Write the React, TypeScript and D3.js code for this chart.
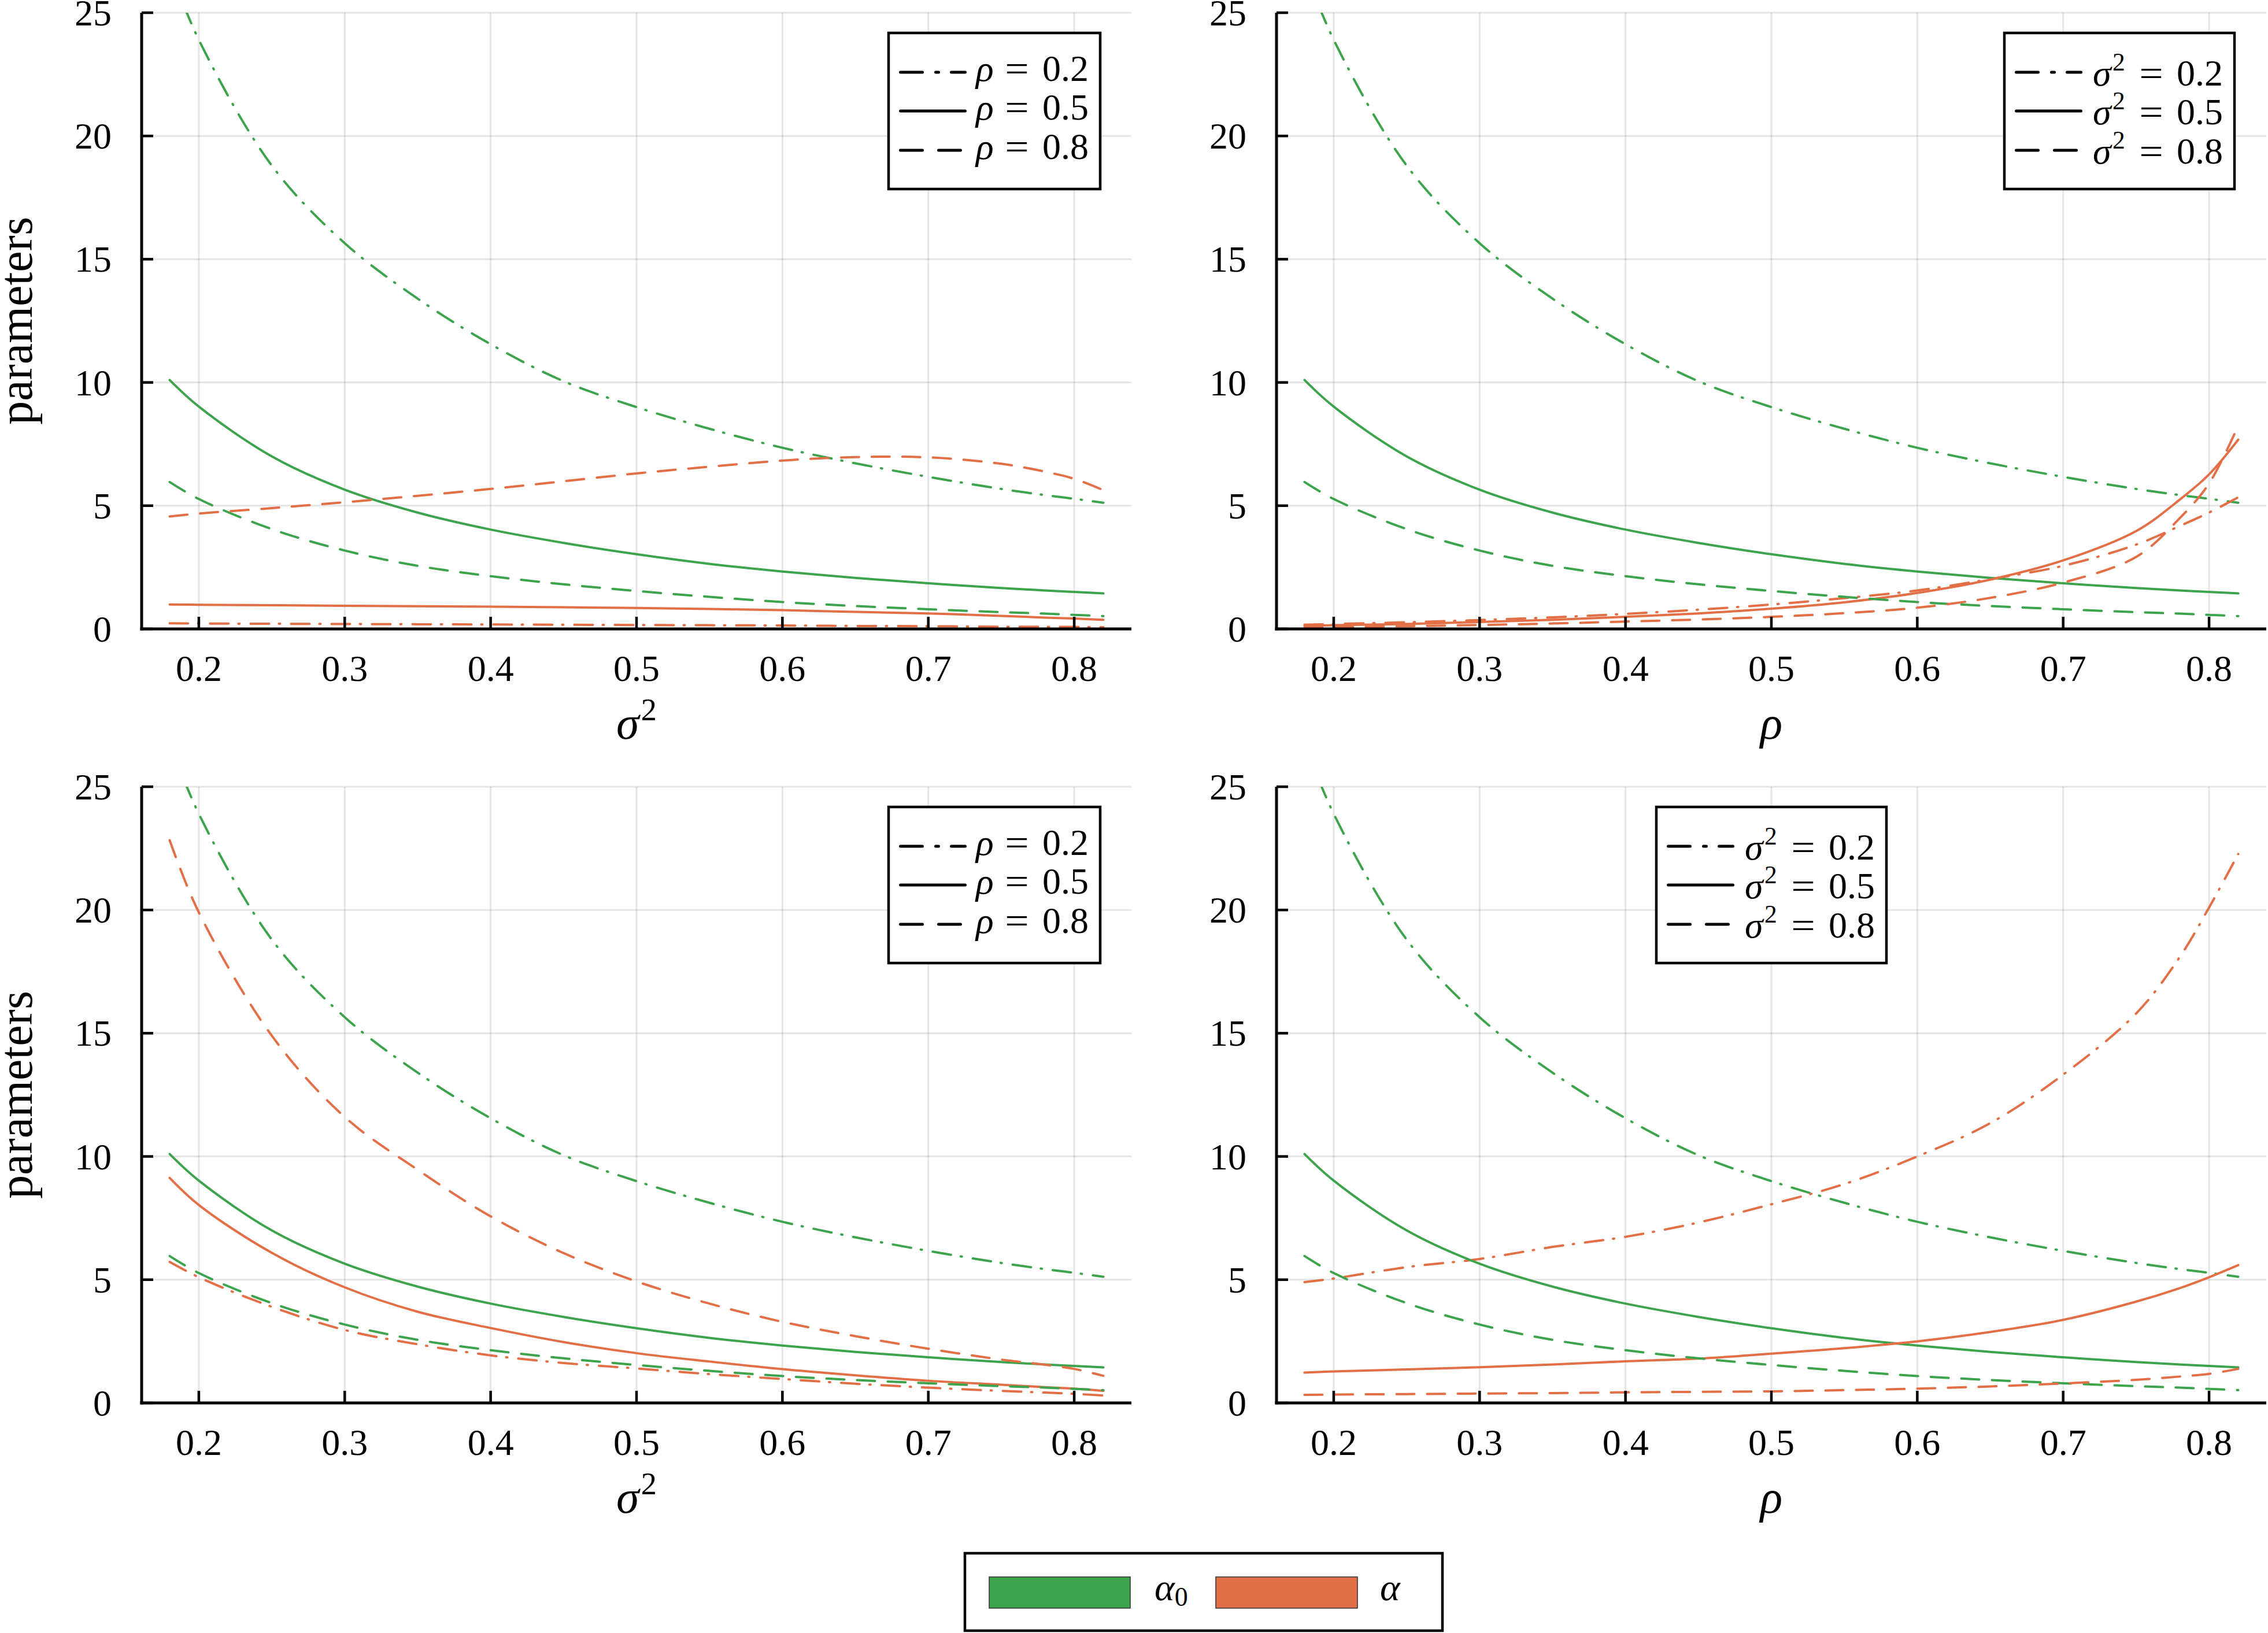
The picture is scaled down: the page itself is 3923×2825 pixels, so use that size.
import React from 'react';
import * as d3 from 'd3';

// ---------- data ----------
const xGrid = [0.18, 0.2, 0.25, 0.3, 0.35, 0.4, 0.45, 0.5, 0.55, 0.6, 0.65, 0.7, 0.75, 0.78, 0.8, 0.82];

// alpha_0 (identical in all panels)
const alpha0DashDot = [26.8, 23.9, 18.8, 15.65, 13.4, 11.55, 10.05, 9.0, 8.12, 7.35, 6.72, 6.17, 5.68, 5.43, 5.28, 5.12];
const alpha0Solid = [10.1, 9.02, 7.0, 5.65, 4.72, 4.03, 3.49, 3.03, 2.64, 2.33, 2.07, 1.85, 1.66, 1.56, 1.5, 1.44];
const alpha0Dashed = [5.96, 5.27, 4.05, 3.18, 2.56, 2.14, 1.81, 1.54, 1.3, 1.09, 0.93, 0.8, 0.68, 0.62, 0.57, 0.52];

// top-left: alpha vs sigma^2
const tlAlphaRho02 = [0.23, 0.22, 0.21, 0.2, 0.19, 0.18, 0.17, 0.16, 0.15, 0.14, 0.12, 0.11, 0.09, 0.085, 0.08, 0.07];
const tlAlphaRho05 = [0.99, 0.98, 0.96, 0.94, 0.92, 0.9, 0.88, 0.85, 0.81, 0.76, 0.69, 0.63, 0.53, 0.46, 0.42, 0.37];
const tlAlphaRho08 = [4.56, 4.68, 4.9, 5.14, 5.4, 5.68, 5.99, 6.31, 6.58, 6.83, 6.97, 6.96, 6.7, 6.38, 6.09, 5.63];

// top-right: alpha vs rho
const trAlphaSig02 = [0.17, 0.2, 0.27, 0.36, 0.47, 0.61, 0.78, 0.99, 1.25, 1.56, 2.02, 2.56, 3.42, 4.18, 4.72, 5.34];
const trAlphaSig05 = [0.12, 0.15, 0.2, 0.28, 0.37, 0.49, 0.63, 0.82, 1.08, 1.46, 2.0, 2.78, 3.97, 5.25, 6.27, 7.68];
const trAlphaSig08 = [0.05, 0.07, 0.11, 0.16, 0.22, 0.3, 0.38, 0.49, 0.64, 0.86, 1.26, 1.88, 2.92, 4.5, 5.9, 8.25];

// bottom-left: alpha vs sigma^2
const blAlphaRho02 = [5.72, 5.1, 3.9, 2.96, 2.38, 1.93, 1.62, 1.4, 1.17, 0.97, 0.78, 0.62, 0.49, 0.42, 0.37, 0.3];
const blAlphaRho05 = [9.13, 8.03, 6.09, 4.69, 3.7, 3.04, 2.47, 2.02, 1.68, 1.37, 1.12, 0.9, 0.74, 0.64, 0.58, 0.49];
const blAlphaRho08 = [22.83, 19.9, 14.9, 11.6, 9.46, 7.57, 6.08, 4.93, 4.03, 3.29, 2.71, 2.2, 1.76, 1.55, 1.38, 1.1];

// bottom-right: alpha vs rho
const brAlphaSig02 = [4.9, 5.05, 5.51, 5.84, 6.33, 6.74, 7.32, 8.06, 8.88, 10.0, 11.35, 13.32, 15.8, 18.1, 20.1, 22.27];
const brAlphaSig05 = [1.23, 1.28, 1.36, 1.45, 1.56, 1.69, 1.8, 2.0, 2.22, 2.5, 2.88, 3.37, 4.11, 4.66, 5.1, 5.59];
const brAlphaSig08 = [0.33, 0.34, 0.36, 0.38, 0.4, 0.43, 0.45, 0.47, 0.52, 0.58, 0.67, 0.79, 0.94, 1.07, 1.18, 1.38];

const xTicks = [0.2, 0.3, 0.4, 0.5, 0.6, 0.7, 0.8];
const yTicks = [0, 5, 10, 15, 20, 25];
const legendValues = ['0.2', '0.5', '0.8'];
const styleOrder = ['dashdot', 'solid', 'dashed'];

// ---------- style ----------
const GREEN = '#3da44d';
const ORANGE = '#e26f46';
const FONT = "'Liberation Serif', 'DejaVu Serif', serif";
const W = 3923;
const H = 2825;
const PW = 1712;
const PH = 1066;
const X_DOMAIN = [0.1608, 0.8392];

const DASH: Record<string, string | undefined> = {
  dashdot: '32 17 2 19',
  solid: undefined,
  dashed: '31 22',
};
const LEG_DASH: Record<string, string | undefined> = {
  dashdot: '38 23 5 22',
  solid: undefined,
  dashed: '38 28',
};

type PanelCfg = {
  id: string;
  left: number;
  top: number;
  xvar: 'sigma' | 'rho';
  yLabel: boolean;
  orange: number[][];
  legendX: number;
};

const panels: PanelCfg[] = [
  { id: 'tl', left: 245, top: 22, xvar: 'sigma', yLabel: true, orange: [tlAlphaRho02, tlAlphaRho05, tlAlphaRho08], legendX: 1292 },
  { id: 'tr', left: 2208, top: 22, xvar: 'rho', yLabel: false, orange: [trAlphaSig02, trAlphaSig05, trAlphaSig08], legendX: 1259 },
  { id: 'bl', left: 245, top: 1361, xvar: 'sigma', yLabel: true, orange: [blAlphaRho02, blAlphaRho05, blAlphaRho08], legendX: 1292 },
  { id: 'br', left: 2208, top: 1361, xvar: 'rho', yLabel: false, orange: [brAlphaSig02, brAlphaSig05, brAlphaSig08], legendX: 657 },
];

function VarLabel({ v, size }: { v: 'sigma' | 'rho'; size: number }) {
  if (v === 'rho') return <tspan fontStyle="italic">ρ</tspan>;
  return (
    <>
      <tspan fontStyle="italic">σ</tspan>
      <tspan fontSize={size * 0.68} dy={-size * 0.4} dx={size * 0.04}>2</tspan>
    </>
  );
}

function Panel({ p }: { p: PanelCfg }) {
  const x = d3.scaleLinear().domain(X_DOMAIN).range([0, PW]);
  const y = d3.scaleLinear().domain([0, 25]).range([PH, 0]);
  const lineGen = d3
    .line<number>()
    .x((_d, i) => x(xGrid[i]))
    .y((d) => y(d))
    .curve(d3.curveCatmullRom.alpha(0.5));
  const green = [alpha0DashDot, alpha0Solid, alpha0Dashed];
  const legVar: 'sigma' | 'rho' = p.xvar === 'sigma' ? 'rho' : 'sigma';
  const legW = legVar === 'rho' ? 366 : 398;
  const legY = 35;
  const legH = 270;
  const rowOff = [68, 135, 203];
  const symX = legVar === 'rho' ? 151 : 153;
  const eqX = legVar === 'rho' ? 222 : 254;
  const valX = legVar === 'rho' ? 266 : 298;
  const textDy = legVar === 'rho' ? 15 : 23;
  const fs = 64;

  return (
    <g transform={`translate(${p.left},${p.top})`}>
      <defs>
        <clipPath id={`clip-${p.id}`}>
          <rect x={0} y={0} width={PW} height={PH} />
        </clipPath>
      </defs>
      <g stroke="#000" strokeOpacity={0.1} strokeWidth={3}>
        {xTicks.map((t) => (
          <line key={`gx${t}`} x1={x(t)} x2={x(t)} y1={0} y2={PH} />
        ))}
        {yTicks.map((t) => (
          <line key={`gy${t}`} x1={0} x2={PW} y1={y(t)} y2={y(t)} />
        ))}
      </g>
      <g clipPath={`url(#clip-${p.id})`} fill="none" strokeWidth={4} strokeLinecap="round" strokeLinejoin="round">
        {styleOrder.map((s, k) => (
          <g key={s}>
            <path d={lineGen(green[k]) || ''} stroke={GREEN} strokeDasharray={DASH[s]} />
            <path d={lineGen(p.orange[k]) || ''} stroke={ORANGE} strokeDasharray={DASH[s]} />
          </g>
        ))}
      </g>
      <g stroke="#000">
        <line x1={0} x2={0} y1={0} y2={PH + 2.5} strokeWidth={5} />
        <line x1={-2.5} x2={PW} y1={PH} y2={PH} strokeWidth={5} />
        {xTicks.map((t) => (
          <line key={`tx${t}`} x1={x(t)} x2={x(t)} y1={PH} y2={PH - 21} strokeWidth={4.5} />
        ))}
        {yTicks.map((t) => (
          <line key={`ty${t}`} x1={0} x2={20} y1={y(t)} y2={y(t)} strokeWidth={4.5} />
        ))}
      </g>
      <g fontFamily={FONT} fontSize={fs} fill="#000">
        {xTicks.map((t) => (
          <text key={`lx${t}`} x={x(t)} y={PH + 90} textAnchor="middle">
            {t.toFixed(1)}
          </text>
        ))}
        {yTicks.map((t) => (
          <text key={`ly${t}`} x={-52} y={y(t) + 22} textAnchor="end">
            {t}
          </text>
        ))}
      </g>
      <text x={PW / 2} y={PH + 190} textAnchor="middle" fontFamily={FONT} fontSize={80}>
        <VarLabel v={p.xvar} size={80} />
      </text>
      {p.yLabel && (
        <text
          transform={`translate(-190,${PH / 2}) rotate(-90)`}
          textAnchor="middle"
          fontFamily={FONT}
          fontSize={82}
        >
          parameters
        </text>
      )}
      <g transform={`translate(${p.legendX},${legY})`}>
        <rect x={0} y={0} width={legW} height={legH} fill="#fff" stroke="#000" strokeWidth={4.5} />
        {styleOrder.map((s, k) => (
          <g key={`leg${s}`}>
            <line
              x1={20.5}
              x2={132.5}
              y1={rowOff[k]}
              y2={rowOff[k]}
              stroke="#000"
              strokeWidth={5}
              strokeLinecap="round"
              strokeDasharray={LEG_DASH[s]}
            />
            <text x={symX} y={rowOff[k] + textDy} fontFamily={FONT} fontSize={fs}>
              <VarLabel v={legVar} size={fs} />
            </text>
            <text
              x={eqX}
              y={rowOff[k] + textDy}
              fontFamily={FONT}
              fontSize={fs}
              textAnchor="middle"
              transform={`translate(${eqX},0) scale(1.15,1) translate(${-eqX},0)`}
            >
              =
            </text>
            <text x={valX} y={rowOff[k] + textDy} fontFamily={FONT} fontSize={fs}>
              {legendValues[k]}
            </text>
          </g>
        ))}
      </g>
    </g>
  );
}

export default function App() {
  return (
    <svg
      width={W}
      height={H}
      viewBox={`0 0 ${W} ${H}`}
      style={{ position: 'absolute', left: 0, top: 0, display: 'block', background: '#fff' }}
    >
      <rect x={0} y={0} width={W} height={H} fill="#fff" />
      {panels.map((p) => (
        <Panel key={p.id} p={p} />
      ))}
      <g fontFamily={FONT} fontSize={66}>
        <rect x={1669} y={2687} width={826} height={134} fill="#fff" stroke="#000" strokeWidth={4.5} />
        <rect x={1711} y={2728} width={244} height={54} fill={GREEN} stroke="#2f2f2f" strokeWidth={1.5} />
        <text x={1997} y={2768}>
          <tspan fontStyle="italic">α</tspan>
          <tspan fontSize={46} dy={10}>0</tspan>
        </text>
        <rect x={2103} y={2728} width={245} height={54} fill={ORANGE} stroke="#2f2f2f" strokeWidth={1.5} />
        <text x={2387} y={2768}>
          <tspan fontStyle="italic">α</tspan>
        </text>
      </g>
    </svg>
  );
}
